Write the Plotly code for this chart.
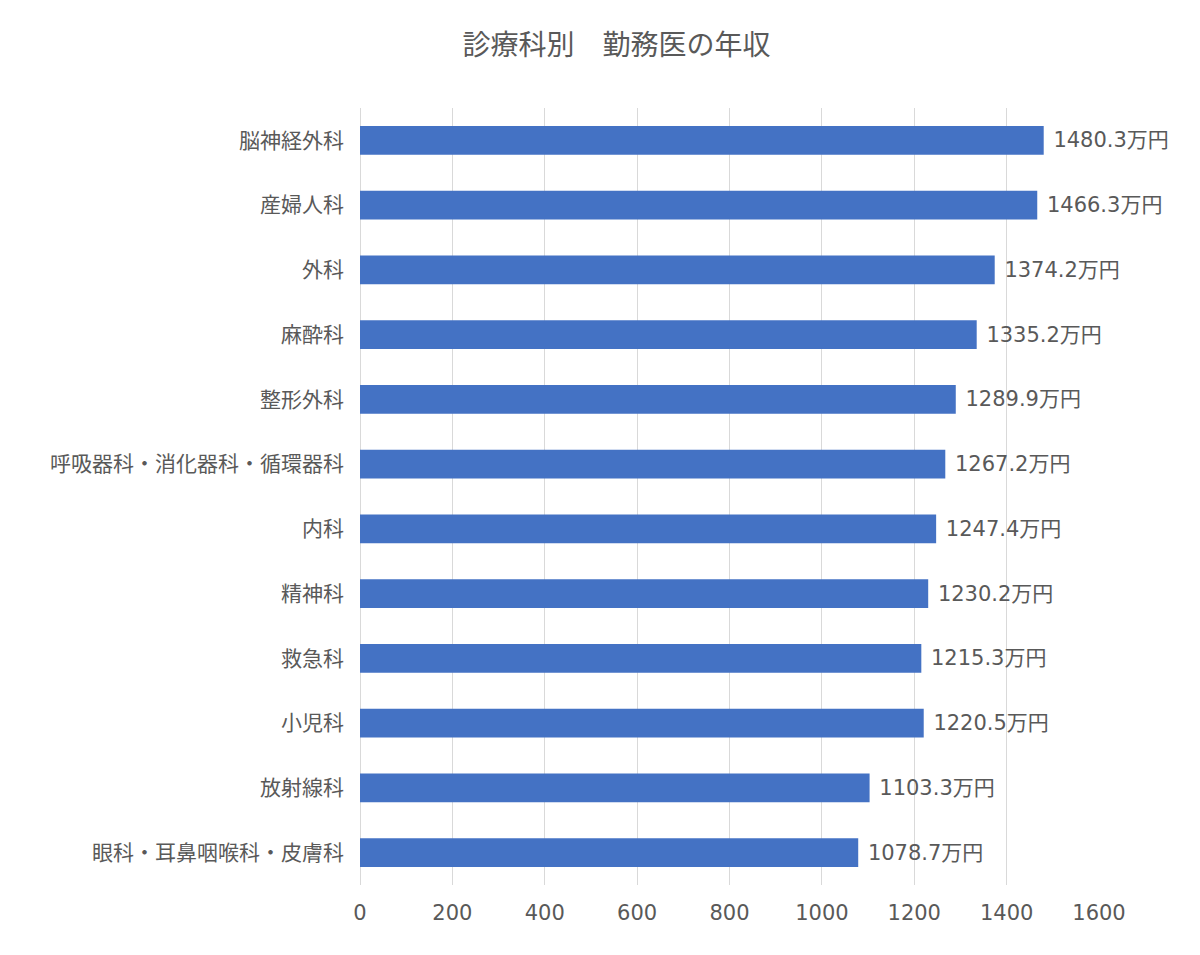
"""
診療科別 勤務医の年収 - horizontal bar chart
"""
import plotly.graph_objects as go

# Data (top to bottom)
departments = ["脳神経外科", "産婦人科", "外科", "麻酔科", "整形外科",
               "呼吸器科・消化器科・循環器科", "内科", "精神科", "救急科",
               "小児科", "放射線科", "眼科・耳鼻咽喉科・皮膚科"]
salaries = [1480.3, 1466.3, 1374.2, 1335.2, 1289.9, 1267.2,
            1247.4, 1230.2, 1215.3, 1220.5, 1103.3, 1078.7]
x_ticks = [0, 200, 400, 600, 800, 1000, 1200, 1400, 1600]

CJK = "Noto Sans CJK JP"
NUM = "DejaVu Sans, Noto Sans CJK JP"
GREY = "#595959"

fig = go.Figure()
fig.add_trace(go.Bar(
    x=salaries,
    y=departments,
    orientation="h",
    marker=dict(color="#4472C4", line=dict(width=0)),
    text=[f" {v:.1f}万円" for v in salaries],
    textposition="outside",
    textfont=dict(family=NUM, size=21, color=GREY),
    cliponaxis=False,
))

# Configure the figure
fig.update_layout(
    width=1200, height=955,
    title=dict(text="診療科別　勤務医の年収", x=0.507, xanchor="center",
               y=0.961, yanchor="middle",
               font=dict(family=CJK, size=28, color=GREY)),
    margin=dict(l=352, r=109, t=100, b=78),
    paper_bgcolor="white", plot_bgcolor="white",
    bargap=0.554,
    showlegend=False,
    font=dict(family=CJK, color=GREY),
)
fig.update_xaxes(range=[0, 1600], tickvals=x_ticks, showgrid=True,
                 gridcolor="#D9D9D9", gridwidth=1, zeroline=True,
                 zerolinecolor="#D9D9D9", zerolinewidth=1,
                 showline=False, ticks="", ticklabelstandoff=13,
                 tickfont=dict(family=NUM, size=21, color=GREY))
fig.update_yaxes(autorange="reversed", showgrid=False, showline=False,
                 ticks="", ticklabelstandoff=15,
                 tickfont=dict(family=CJK, size=21, color=GREY))

fig.write_html("out.html")
